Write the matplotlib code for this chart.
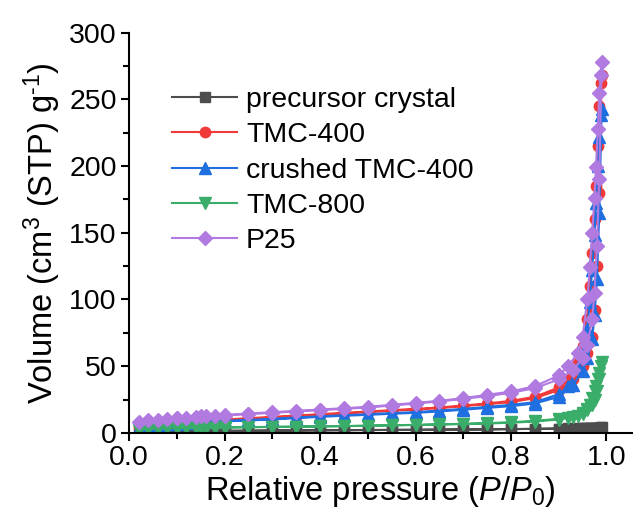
import numpy as np
from matplotlib import pyplot as plt
from matplotlib import rc

#%% Style

rc('font', family = 'Liberation Sans')
rc('mathtext', fontset = 'custom', rm = 'Liberation Sans', it = 'Liberation Sans:italic')

#%% Data: relative pressure (P/P0) of adsorption and desorption branches

p_ads = [0.02, 0.04, 0.06, 0.08, 0.10, 0.12, 0.14, 0.16, 0.18, 0.20, 0.25, 0.30,
         0.35, 0.40, 0.45, 0.50, 0.55, 0.60, 0.65, 0.70, 0.75, 0.80, 0.85, 0.90,
         0.93, 0.95, 0.96, 0.97, 0.975, 0.98, 0.985, 0.99]
p_des = [0.988, 0.985, 0.982, 0.978, 0.975, 0.97, 0.965, 0.96, 0.95, 0.94, 0.92, 0.90,
         0.85, 0.80, 0.75, 0.70, 0.65, 0.60, 0.55, 0.50, 0.45, 0.40, 0.35, 0.30,
         0.25, 0.20, 0.15, 0.10]

# Volume [cm3 (STP) g-1]
prec_ads = [0.8, 1.0, 1.1, 1.2, 1.2, 1.3, 1.3, 1.4, 1.4, 1.5, 1.6, 1.7, 1.8, 1.9, 2.0, 2.1,
            2.2, 2.3, 2.4, 2.5, 2.6, 2.8, 3.0, 3.2, 3.4, 3.5, 3.6, 3.7, 3.8, 3.9, 4.0, 4.2]
prec_des = [4.1, 4.0, 3.9, 3.8, 3.8, 3.7, 3.6, 3.6, 3.5, 3.4, 3.3, 3.2, 3.0, 2.8,
            2.6, 2.5, 2.4, 2.3, 2.2, 2.1, 2.0, 1.9, 1.8, 1.7, 1.6, 1.5, 1.4, 1.3]

t400_ads = [5, 6.5, 7, 7.5, 8, 8.3, 8.7, 9, 9.3, 9.7, 10.5, 11.5, 12.5, 13.5, 14.5, 15.5,
            16.5, 17.5, 18.5, 20, 21.5, 23, 26, 32, 40, 50, 60, 72, 92, 125, 180, 268]
t400_des = [262, 245, 215, 185, 160, 135, 110, 85, 65, 52, 40, 34, 27, 24,
            22, 20.5, 19, 18, 17, 16, 15, 14, 13, 12, 11, 10, 9, 8.3]

crush_ads = [4, 5.5, 6, 6.5, 7, 7.3, 7.6, 8, 8.3, 8.6, 9.3, 10, 11, 12, 12.8, 13.5,
             14.3, 15, 16, 17.3, 18.7, 20, 22, 27, 36, 46, 56, 70, 88, 115, 165, 243]
crush_des = [238, 222, 200, 172, 148, 122, 98, 78, 60, 49, 35, 29, 23, 21,
             19.5, 18, 16.7, 15.6, 14.8, 14, 13.2, 12.4, 11.5, 10.5, 9.7, 9, 8.2, 7.5]

t800_ads = [2.5, 3, 3.2, 3.4, 3.5, 3.6, 3.7, 3.8, 3.9, 4, 4.2, 4.4, 4.6, 4.8, 5, 5.3,
            5.6, 5.9, 6.2, 6.6, 7, 7.6, 8.5, 10, 12, 14.5, 17, 21, 25, 31, 40, 53]
t800_des = [50, 45, 40, 35, 31, 26, 21, 18, 15, 13, 11.5, 10.5, 9, 8,
            7.3, 6.8, 6.4, 6, 5.7, 5.4, 5.1, 4.9, 4.7, 4.5, 4.3, 4.1, 3.9, 3.6]

p25_ads = [8.5, 9.5, 10, 10.5, 11, 11.5, 12, 12.3, 12.7, 13, 14, 15, 16, 17, 18, 19,
           20.5, 22, 23.5, 25.5, 27.5, 30, 33.5, 40, 47, 56, 66, 85, 105, 140, 190, 278]
p25_des = [268, 255, 228, 199, 176, 150, 124, 100, 72, 60, 50, 43, 35, 31,
           28.5, 26, 24, 22.5, 21, 19.5, 18.5, 17.5, 16.5, 15.5, 14.5, 13.5, 12.5, 11.5]

labels  = ['precursor crystal', 'TMC-400', 'crushed TMC-400', 'TMC-800', 'P25']
ads     = [prec_ads, t400_ads, crush_ads, t800_ads, p25_ads]
des     = [prec_des, t400_des, crush_des, t800_des, p25_des]
colors  = ['#4d4d4d', '#f03a3a', '#1f6fe0', '#3aad6a', '#b07ae0']
markers = ['s', 'o', '^', 'v', 'D']
msizes  = [6.5, 7.5, 8, 8, 7]

#%% Plotting

fig = plt.figure(figsize = (6.33, 5.19), dpi = 100)
ax  = fig.add_axes([0.204, 0.166, 0.794, 0.771])

for i in range(len(labels)):
    x = np.concatenate([p_ads, p_des])
    y = np.concatenate([ads[i], des[i]])
    ax.plot(x, y, color = colors[i], marker = markers[i], markersize = msizes[i],
            linewidth = 1.5, label = labels[i])

ax.set_xlim(0, 1.053)
ax.set_ylim(0, 300)
ax.set_xticks(np.arange(0, 1.01, 0.2))
ax.set_xticks(np.arange(0.1, 1.01, 0.2), minor = True)
ax.set_yticks(np.arange(0, 301, 50))
ax.set_yticks(np.arange(25, 300, 50), minor = True)
ax.xaxis.set_major_formatter(plt.FormatStrFormatter('%.1f'))

for s in ['top', 'right']:
    ax.spines[s].set_visible(False)
for s in ['left', 'bottom']:
    ax.spines[s].set_linewidth(1.5)

ax.tick_params(which = 'major', direction = 'out', length = 6, width = 1.5, labelsize = 20.5, pad = 3)
ax.tick_params(which = 'minor', direction = 'out', length = 4, width = 1.5)

ax.set_xlabel('Relative pressure ($P$/$P_0$)', fontsize = 23.5, labelpad = 2)
ax.set_ylabel('Volume (cm$^3$ (STP) g$^{\\text{-1}}$)', fontsize = 23.5, labelpad = 4)

ax.legend(loc = 'upper left', bbox_to_anchor = (0.085, 0.865), frameon = False,
          fontsize = 20.5, handlelength = 2.3, handletextpad = 0.3, labelspacing = 0.33,
          borderpad = 0, borderaxespad = 0)

plt.savefig('out.png', dpi = 100)
